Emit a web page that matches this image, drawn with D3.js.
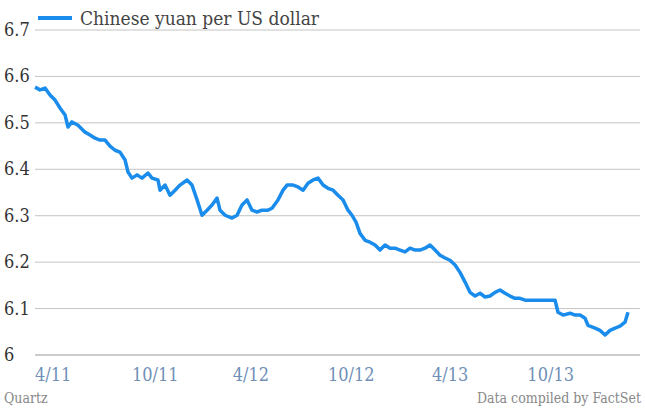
<!DOCTYPE html>
<html>
<head>
<meta charset="utf-8">
<script src="https://cdn.jsdelivr.net/npm/d3@7"></script>
<style>
  body { margin: 0; background: #fff; }
  text { font-family: "DejaVu Serif Condensed", "DejaVu Serif", serif; font-stretch: condensed; }
</style>
</head>
<body>
<script>
// months along the axis, and yuan per dollar
var months = [0.38,0.75,1.13,1.5,1.88,2.25,2.63,2.85,3.15,3.6,4.13,4.5,4.88,5.25,5.63,6,6.38,6.75,7.13,7.35,7.65,8.03,8.4,8.85,9.15,9.6,9.75,10.13,10.5,10.88,11.25,11.78,12.15,12.53,12.9,13.28,13.65,14.03,14.25,14.63,15.15,15.53,15.9,16.28,16.65,17.03,17.4,17.85,18.15,18.6,18.98,19.28,19.73,20.1,20.48,20.85,21.23,21.6,21.98,22.35,22.73,23.1,23.48,23.85,24.15,24.45,24.75,25.13,25.5,25.88,26.25,26.63,27,27.38,27.75,28.13,28.5,28.88,29.25,29.63,30,30.38,30.75,31.13,31.5,31.88,32.25,32.63,33,33.38,33.75,34.13,34.5,34.88,35.25,35.63,36,36.38,36.75,37.13,37.5,38.25,39,39.38,39.6,39.98,40.5,40.88,41.25,41.63,41.85,42.38,42.75,43.13,43.5,43.88,44.25,44.63,44.85];
var rates = [6.577,6.571,6.575,6.560,6.549,6.532,6.517,6.491,6.502,6.495,6.480,6.474,6.467,6.463,6.463,6.450,6.441,6.437,6.420,6.394,6.381,6.388,6.381,6.392,6.381,6.377,6.355,6.366,6.344,6.355,6.366,6.377,6.366,6.334,6.301,6.312,6.323,6.338,6.312,6.301,6.295,6.301,6.323,6.334,6.312,6.308,6.312,6.312,6.316,6.334,6.355,6.366,6.366,6.362,6.355,6.370,6.377,6.381,6.366,6.359,6.355,6.344,6.334,6.312,6.301,6.286,6.262,6.247,6.243,6.237,6.226,6.237,6.230,6.230,6.226,6.222,6.230,6.226,6.226,6.230,6.237,6.226,6.215,6.209,6.204,6.194,6.178,6.157,6.135,6.127,6.133,6.125,6.127,6.135,6.140,6.133,6.127,6.122,6.122,6.118,6.118,6.118,6.118,6.118,6.092,6.086,6.090,6.086,6.086,6.079,6.064,6.058,6.053,6.043,6.053,6.058,6.062,6.071,6.092];
var yTicks = [6, 6.1, 6.2, 6.3, 6.4, 6.5, 6.6, 6.7];
var xTicks = [0.38, 7.65, 15.2, 22.35, 30.15, 37.3];
var xLabels = ['4/11', '10/11', '4/12', '10/12', '4/13', '10/13'];

var W = 645, H = 410;
var svg = d3.select('body').append('svg').attr('width', W).attr('height', H);

var x = d3.scaleLinear().domain([0, 45]).range([30, 630]);
var y = d3.scaleLinear().domain([6, 6.7]).range([355, 30]);

// gridlines
svg.selectAll('line.grid').data(yTicks).enter().append('line')
  .attr('x1', 35).attr('x2', 640)
  .attr('y1', d => y(d)).attr('y2', d => y(d))
  .attr('stroke', d => d === 6 ? '#999' : '#c4c4c4').attr('stroke-width', 1);

svg.selectAll('text.ylab').data(yTicks).enter().append('text')
  .attr('x', 4).attr('y', d => y(d) + 6)
  .attr('font-size', 18).attr('fill', '#333')
  .text(d => d === 6 ? '6' : d3.format('.1f')(d));

svg.selectAll('text.xlab').data(xTicks).enter().append('text')
  .attr('x', d => x(d)).attr('y', 381)
  .attr('font-size', 18).attr('fill', '#7090b8')
  .text((d, i) => xLabels[i]);

var pts = months.map((m, i) => [m, rates[i]]);
svg.append('path')
  .attr('d', d3.line().x(d => x(d[0])).y(d => y(d[1]))(pts))
  .attr('fill', 'none').attr('stroke', '#1a8cec')
  .attr('stroke-width', 3.5).attr('stroke-linejoin', 'round');

// legend
svg.append('line').attr('x1', 38).attr('x2', 72).attr('y1', 18).attr('y2', 18)
  .attr('stroke', '#1a8cec').attr('stroke-width', 4);
svg.append('text').attr('x', 80).attr('y', 25).attr('font-size', 19).attr('fill', '#444')
  .text('Chinese yuan per US dollar');

svg.append('text').attr('x', 4).attr('y', 403).attr('font-size', 14).attr('fill', '#888').text('Quartz');
svg.append('text').attr('x', 641).attr('y', 403).attr('font-size', 14).attr('fill', '#888')
  .attr('text-anchor', 'end').text('Data compiled by FactSet');
</script>
</body>
</html>
